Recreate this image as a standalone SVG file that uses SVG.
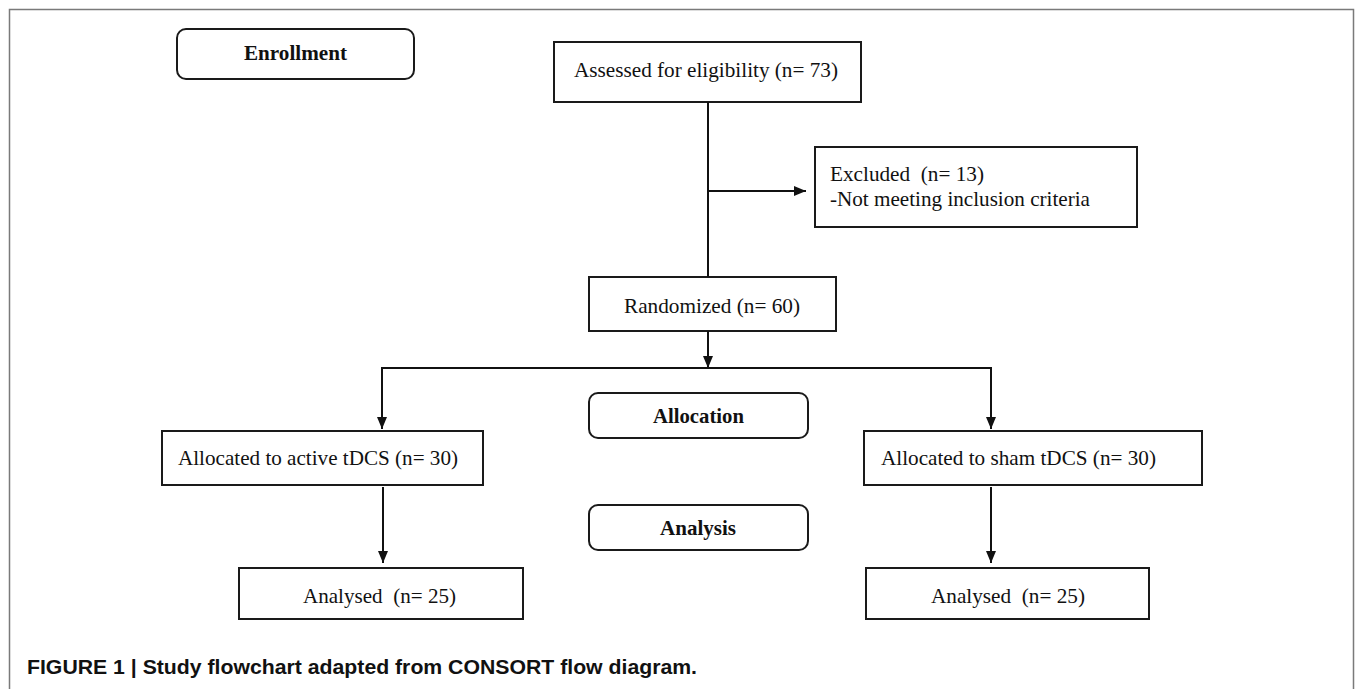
<svg xmlns="http://www.w3.org/2000/svg" width="1355" height="689" viewBox="0 0 1355 689">
<style>
.box{fill:#fff;stroke:#1a1a1a;stroke-width:2}
.t{font-family:"Liberation Serif","Times New Roman",serif;font-size:21px;fill:#111;white-space:pre}
.b{font-family:"Liberation Serif","Times New Roman",serif;font-size:21px;font-weight:bold;fill:#111;text-anchor:middle}
.ln{fill:none;stroke:#111;stroke-width:2}
.cap{font-family:"Liberation Sans",Arial,sans-serif;font-size:20px;font-weight:bold;fill:#111}
</style>
<defs>
<marker id="ah" markerUnits="userSpaceOnUse" markerWidth="12" markerHeight="10" refX="12" refY="5" orient="auto">
<path d="M0,0 L12,5 L0,10 Z" fill="#111"/>
</marker>
</defs>
<rect width="1355" height="689" fill="#fff"/>
<path d="M9.5,689 V9.5 H1353.5 V689" fill="none" stroke="#7a7a7a" stroke-width="1.5"/>

<g id="enrollment"><rect class="box" x="177" y="29" width="237" height="50" rx="9"/><text class="b" x="295.5" y="60" textLength="103" lengthAdjust="spacingAndGlyphs">Enrollment</text></g>
<g id="assessed"><rect class="box" x="554" y="42" width="307" height="60"/><text class="t" x="574" y="77" textLength="264" lengthAdjust="spacingAndGlyphs">Assessed for eligibility (n= 73)</text></g>
<g id="excluded"><rect class="box" x="815" y="147" width="322" height="80"/><text class="t" x="830" y="181" textLength="154" lengthAdjust="spacingAndGlyphs">Excluded  (n= 13)</text><text class="t" x="830" y="206" textLength="260" lengthAdjust="spacingAndGlyphs">-Not meeting inclusion criteria</text></g>
<g id="randomized"><rect class="box" x="589" y="277" width="247" height="54"/><text class="t" x="624" y="313" textLength="176" lengthAdjust="spacingAndGlyphs">Randomized (n= 60)</text></g>
<g id="allocation"><rect class="box" x="589" y="393" width="219" height="45" rx="9"/><text class="b" x="698.5" y="423" textLength="91" lengthAdjust="spacingAndGlyphs">Allocation</text></g>
<g id="analysis"><rect class="box" x="589" y="505" width="219" height="45" rx="9"/><text class="b" x="698" y="535" textLength="76" lengthAdjust="spacingAndGlyphs">Analysis</text></g>
<g id="active"><rect class="box" x="162" y="431" width="321" height="54"/><text class="t" x="178" y="465" textLength="280" lengthAdjust="spacingAndGlyphs">Allocated to active tDCS (n= 30)</text></g>
<g id="sham"><rect class="box" x="864" y="431" width="338" height="54"/><text class="t" x="881" y="465" textLength="275" lengthAdjust="spacingAndGlyphs">Allocated to sham tDCS (n= 30)</text></g>
<g id="analysed-active"><rect class="box" x="239" y="568" width="284" height="51"/><text class="t" x="303" y="603" textLength="153" lengthAdjust="spacingAndGlyphs">Analysed  (n= 25)</text></g>
<g id="analysed-sham"><rect class="box" x="866" y="568" width="283" height="51"/><text class="t" x="931" y="603" textLength="154" lengthAdjust="spacingAndGlyphs">Analysed  (n= 25)</text></g>

<g id="connectors">
<path class="ln" d="M708,102 V277"/>
<path class="ln" d="M708,191 H806" marker-end="url(#ah)"/>
<path class="ln" d="M708,331 V368" marker-end="url(#ah)"/>
<path class="ln" d="M382,429 V368 H991 V429"/>
<path class="ln" d="M382,380 V429" marker-end="url(#ah)"/>
<path class="ln" d="M991,380 V429" marker-end="url(#ah)"/>
<path class="ln" d="M383,487 V563" marker-end="url(#ah)"/>
<path class="ln" d="M991,487 V563" marker-end="url(#ah)"/>
</g>

<text class="cap" x="27" y="674" textLength="670" lengthAdjust="spacingAndGlyphs">FIGURE 1 | Study flowchart adapted from CONSORT flow diagram.</text>
</svg>
